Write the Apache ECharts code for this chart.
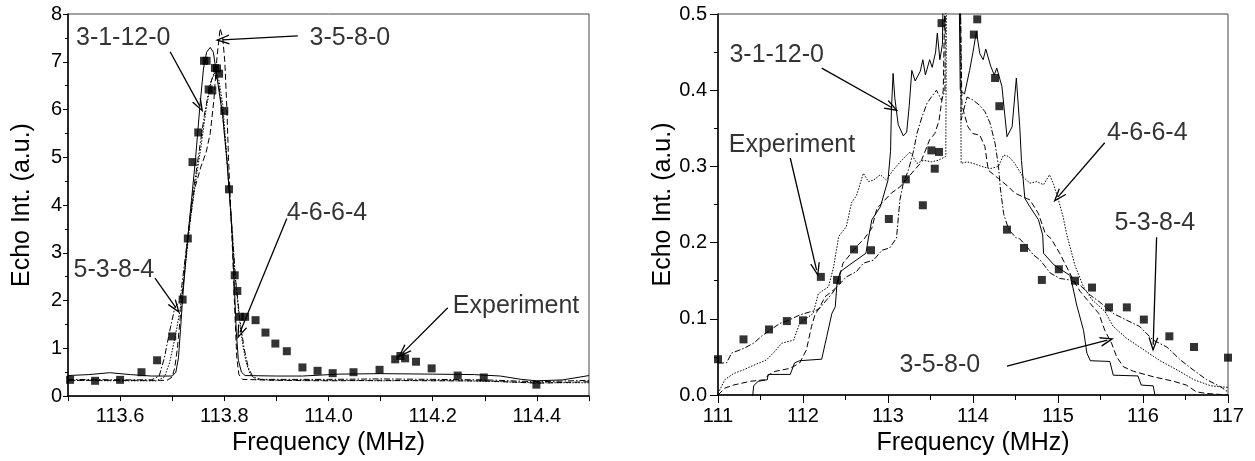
<!DOCTYPE html>
<html><head><meta charset="utf-8">
<script src="https://cdn.jsdelivr.net/npm/echarts@6/dist/echarts.min.js"></script>
<style>html,body{margin:0;padding:0;background:#fff}#c{width:1255px;height:461px}</style>
</head><body><div id="c"></div>
<script>
// ---------- Left panel data (Frequency MHz, Echo Int. a.u.) ----------
const leftExperiment = [[113.504,0.34],[113.552,0.32],[113.60,0.34],[113.641,0.50],[113.671,0.75],[113.70,1.25],[113.72,2.02],[113.73,3.30],[113.739,4.90],[113.75,5.52],[113.761,7.02],[113.766,7.02],[113.77,6.42],[113.777,6.40],[113.782,6.87],[113.786,6.86],[113.79,6.75],[113.80,5.97],[113.809,4.33],[113.82,2.53],[113.825,2.20],[113.83,1.66],[113.84,1.66],[113.86,1.59],[113.879,1.33],[113.898,1.10],[113.92,0.94],[113.95,0.60],[113.979,0.53],[114.008,0.48],[114.048,0.50],[114.098,0.55],[114.128,0.77],[114.138,0.84],[114.147,0.79],[114.168,0.72],[114.198,0.58],[114.248,0.43],[114.298,0.39],[114.399,0.24]];
const leftSim_3_1_12_0 = [[113.50,0.43],[113.54,0.45],[113.58,0.49],[113.62,0.45],[113.66,0.42],[113.70,0.42],[113.707,0.5],[113.712,0.8],[113.716,1.4],[113.72,2.05],[113.728,3.1],[113.737,4.1],[113.745,5.0],[113.753,6.05],[113.76,6.85],[113.766,7.2],[113.773,7.3],[113.779,7.2],[113.783,6.9],[113.789,6.45],[113.797,5.85],[113.805,4.95],[113.811,4.05],[113.815,3.4],[113.819,2.4],[113.823,1.35],[113.827,0.75],[113.833,0.5],[113.84,0.43],[113.9,0.42],[113.95,0.42],[114.02,0.46],[114.1,0.47],[114.2,0.46],[114.28,0.45],[114.33,0.42],[114.37,0.35],[114.4,0.32],[114.45,0.34],[114.5,0.43]];
const leftSim_3_5_8_0 = [[113.50,0.33],[113.6,0.33],[113.69,0.33],[113.70,0.4],[113.705,0.6],[113.71,1.0],[113.715,1.6],[113.72,2.2],[113.73,3.3],[113.742,4.3],[113.755,4.8],[113.765,5.1],[113.773,5.5],[113.78,6.2],[113.786,7.1],[113.792,7.7],[113.797,7.5],[113.801,7.0],[113.805,6.0],[113.808,5.0],[113.812,4.0],[113.816,3.0],[113.82,1.8],[113.824,0.8],[113.828,0.45],[113.835,0.35],[113.9,0.33],[114.0,0.32],[114.1,0.33],[114.2,0.32],[114.3,0.32],[114.4,0.27],[114.5,0.30]];
const leftSim_4_6_6_4 = [[113.50,0.33],[113.6,0.32],[113.67,0.32],[113.685,0.4],[113.695,0.7],[113.705,1.2],[113.715,1.8],[113.725,2.7],[113.735,3.7],[113.745,4.5],[113.755,5.2],[113.765,6.0],[113.775,6.6],[113.783,6.8],[113.79,6.6],[113.797,6.1],[113.805,5.0],[113.812,3.9],[113.82,2.6],[113.828,1.7],[113.835,1.1],[113.842,0.7],[113.85,0.45],[113.86,0.35],[113.9,0.33],[114.0,0.33],[114.1,0.32],[114.2,0.33],[114.3,0.31],[114.4,0.28],[114.5,0.28]];
const leftSim_5_3_8_4 = [[113.50,0.35],[113.6,0.34],[113.66,0.34],[113.675,0.42],[113.685,0.8],[113.695,1.35],[113.705,1.85],[113.715,2.0],[113.725,2.9],[113.738,4.1],[113.75,5.0],[113.762,5.9],[113.772,6.5],[113.78,6.75],[113.788,6.6],[113.796,6.0],[113.806,4.8],[113.815,3.5],[113.822,2.4],[113.83,1.6],[113.838,1.0],[113.846,0.6],[113.855,0.4],[113.87,0.35],[114.0,0.35],[114.1,0.36],[114.2,0.35],[114.3,0.34],[114.4,0.30],[114.5,0.33]];

// ---------- Right panel data ----------
const rightExperiment = [[111.0,0.047],[111.30,0.073],[111.60,0.086],[111.81,0.097],[112.0,0.098],[112.21,0.155],[112.40,0.151],[112.60,0.191],[112.80,0.190],[113.01,0.231],[113.21,0.283],[113.41,0.249],[113.51,0.321],[113.55,0.297],[113.60,0.319],[113.63,0.488],[114.01,0.473],[114.05,0.493],[114.26,0.416],[114.31,0.379],[114.40,0.217],[114.60,0.193],[114.81,0.151],[115.01,0.165],[115.20,0.150],[115.40,0.141],[115.60,0.115],[115.81,0.115],[116.01,0.099],[116.31,0.077],[116.60,0.063],[117.0,0.049]];
const rightSim_3_1_12_0 = [[111.0,-0.02],[111.40,-0.01],[111.42,0.012],[111.47,0.018],[111.58,0.02],[111.59,0.027],[111.85,0.027],[111.9,0.042],[111.96,0.045],[112.22,0.047],[112.28,0.077],[112.34,0.107],[112.38,0.116],[112.40,0.147],[112.44,0.162],[112.55,0.171],[112.74,0.186],[112.77,0.206],[112.81,0.23],[112.91,0.247],[113.0,0.282],[113.03,0.32],[113.04,0.374],[113.06,0.422],[113.08,0.39],[113.12,0.355],[113.18,0.34],[113.22,0.345],[113.25,0.38],[113.28,0.426],[113.32,0.412],[113.38,0.425],[113.41,0.44],[113.44,0.42],[113.49,0.44],[113.52,0.43],[113.56,0.45],[113.58,0.475],[113.61,0.44],[113.64,0.46],[113.66,0.6],[113.75,1.0],[113.83,0.6],[113.85,0.40],[113.9,0.395],[113.96,0.426],[114.0,0.45],[114.04,0.477],[114.08,0.448],[114.12,0.44],[114.15,0.454],[114.21,0.431],[114.25,0.42],[114.28,0.429],[114.34,0.405],[114.40,0.339],[114.46,0.352],[114.51,0.416],[114.55,0.352],[114.57,0.308],[114.61,0.258],[114.67,0.247],[114.77,0.23],[114.82,0.21],[114.83,0.186],[114.95,0.171],[115.14,0.157],[115.16,0.149],[115.22,0.118],[115.30,0.085],[115.34,0.055],[115.38,0.045],[115.61,0.044],[115.65,0.026],[115.94,0.025],[115.98,0.013],[116.12,0.012],[116.14,0.0],[116.2,-0.02],[117.0,-0.02]];
const rightSim_3_5_8_0 = [[111.0,0.0],[111.08,0.009],[111.18,0.013],[111.38,0.018],[111.55,0.02],[111.59,0.026],[111.67,0.031],[111.85,0.035],[111.96,0.042],[112.04,0.059],[112.10,0.09],[112.14,0.105],[112.2,0.116],[112.26,0.129],[112.34,0.136],[112.40,0.142],[112.47,0.173],[112.53,0.181],[112.63,0.195],[112.72,0.205],[112.81,0.219],[112.87,0.245],[112.93,0.252],[113.04,0.265],[113.14,0.273],[113.24,0.286],[113.38,0.304],[113.49,0.335],[113.55,0.343],[113.6,0.36],[113.65,0.40],[113.68,0.6],[113.75,1.0],[113.84,0.6],[113.87,0.38],[113.94,0.352],[114.0,0.343],[114.08,0.341],[114.14,0.326],[114.18,0.295],[114.30,0.284],[114.42,0.273],[114.49,0.265],[114.67,0.256],[114.77,0.238],[114.85,0.212],[114.92,0.205],[115.02,0.186],[115.18,0.151],[115.26,0.136],[115.38,0.12],[115.48,0.107],[115.55,0.085],[115.63,0.068],[115.69,0.05],[115.77,0.037],[115.89,0.031],[116.12,0.024],[116.36,0.018],[116.51,0.013],[116.63,0.004],[116.75,0.002],[117.0,0.0]];
const rightSim_4_6_6_4 = [[111.0,0.002],[111.08,0.02],[111.18,0.028],[111.30,0.033],[111.42,0.039],[111.57,0.046],[111.65,0.055],[111.75,0.068],[111.89,0.072],[111.96,0.094],[112.12,0.107],[112.18,0.133],[112.30,0.142],[112.36,0.168],[112.42,0.208],[112.51,0.221],[112.57,0.252],[112.63,0.262],[112.71,0.291],[112.77,0.28],[112.83,0.282],[112.91,0.289],[112.98,0.282],[113.06,0.295],[113.16,0.308],[113.26,0.319],[113.34,0.304],[113.42,0.308],[113.51,0.306],[113.59,0.308],[113.68,0.313],[113.69,0.6],[113.75,1.0],[113.85,0.6],[113.86,0.304],[113.93,0.306],[114.0,0.304],[114.1,0.30],[114.2,0.297],[114.30,0.30],[114.36,0.315],[114.42,0.313],[114.49,0.304],[114.59,0.286],[114.67,0.278],[114.75,0.28],[114.83,0.276],[114.90,0.289],[114.95,0.276],[115.0,0.258],[115.06,0.234],[115.10,0.212],[115.2,0.17],[115.3,0.142],[115.4,0.125],[115.55,0.11],[115.65,0.09],[115.8,0.075],[116.0,0.06],[116.2,0.045],[116.4,0.033],[116.6,0.02],[116.8,0.012],[117.0,0.01]];
const rightSim_5_3_8_4 = [[111.0,0.042],[111.1,0.042],[111.16,0.055],[111.30,0.061],[111.42,0.068],[111.51,0.077],[111.61,0.085],[111.73,0.094],[111.83,0.098],[111.96,0.105],[112.08,0.109],[112.18,0.112],[112.28,0.125],[112.34,0.133],[112.40,0.142],[112.51,0.155],[112.63,0.162],[112.71,0.173],[112.83,0.177],[112.93,0.19],[113.02,0.193],[113.10,0.206],[113.14,0.256],[113.18,0.278],[113.24,0.295],[113.30,0.32],[113.34,0.343],[113.40,0.365],[113.46,0.383],[113.51,0.391],[113.57,0.40],[113.63,0.387],[113.67,0.40],[113.68,0.6],[113.75,1.0],[113.85,0.6],[113.86,0.361],[113.93,0.391],[114.0,0.387],[114.08,0.38],[114.14,0.372],[114.20,0.357],[114.26,0.33],[114.30,0.30],[114.32,0.273],[114.36,0.238],[114.42,0.217],[114.51,0.206],[114.55,0.205],[114.63,0.195],[114.71,0.184],[114.79,0.177],[114.91,0.16],[115.02,0.153],[115.14,0.151],[115.26,0.144],[115.38,0.131],[115.49,0.122],[115.65,0.107],[115.81,0.098],[115.96,0.09],[116.12,0.072],[116.28,0.063],[116.44,0.046],[116.59,0.033],[116.75,0.02],[116.91,0.011],[117.0,0.004]];

// ---------- Annotations (text anchor, arrow start, arrow tip in data units) ----------
const leftNotes = [
  {text:'3-1-12-0',   at:[113.606,7.50], from:[113.696,7.21], to:[113.753,6.07]},
  {text:'3-5-8-0',    at:[114.041,7.50], from:[113.941,7.54], to:[113.796,7.46]},
  {text:'5-3-8-4',    at:[113.588,2.64], from:[113.667,2.47], to:[113.707,1.85]},
  {text:'4-6-6-4',    at:[113.997,3.84], from:[113.920,3.72], to:[113.830,1.33]},
  {text:'Experiment', at:[114.360,1.89], from:[114.229,1.85], to:[114.143,0.91]}
];
const rightNotes = [
  {text:'3-1-12-0',   at:[111.69,0.446], from:[112.22,0.429], to:[113.05,0.377]},
  {text:'Experiment', at:[111.87,0.328], from:[111.85,0.311], to:[112.16,0.164]},
  {text:'4-6-6-4',    at:[116.05,0.344], from:[115.55,0.331], to:[115.00,0.260]},
  {text:'5-3-8-4',    at:[116.14,0.226], from:[116.16,0.207], to:[116.12,0.066]},
  {text:'3-5-8-0',    at:[113.61,0.039], from:[114.40,0.038], to:[115.58,0.072]}
];

// ---------- Tick labels ----------
const leftXTicks = ['113.6','113.8','114.0','114.2','114.4'];
const axisTitleX = 'Frequency (MHz)';
const axisTitleY = 'Echo Int. (a.u.)';

const FONT = 'Liberation Sans, Arial, sans-serif';
const arrowPath = 'path://M5,0L10,13L8.6,13L5,3.6L1.4,13L0,13Z';

function simLine(data, idx, type) {
  return {type:'line', xAxisIndex:idx, yAxisIndex:idx, data:data, showSymbol:false, symbol:'none',
    lineStyle:{color:'#000', width:1, type:type}, silent:true, animation:false, z:2, clip:true};
}
function expPoints(data, idx) {
  return {type:'scatter', xAxisIndex:idx, yAxisIndex:idx, data:data, symbol:'rect', symbolSize:8,
    itemStyle:{color:'#000'}, silent:true, animation:false, z:4};
}
function notes(list, idx) {
  return {type:'scatter', xAxisIndex:idx, yAxisIndex:idx, symbolSize:0, silent:true, animation:false, z:5,
    data:list.map(n => ({value:n.at, name:n.text})),
    label:{show:true, position:'inside', formatter:'{b}', fontSize:25, color:'#000', fontFamily:FONT},
    markLine:{silent:true, animation:false, symbol:['none', arrowPath], symbolSize:[10,14],
      lineStyle:{color:'#000', width:1.3, type:'solid'}, label:{show:false}, emphasis:{disabled:true},
      data:list.map(n => [{coord:n.from},{coord:n.to}])}};
}

const axisLineStyle = {lineStyle:{color:'#000', width:1.5}};
const labelStyle = {color:'#000', fontSize:20, fontFamily:FONT};
const nameStyle = {color:'#000', fontSize:25, fontFamily:FONT};

const option = {
  animation:false,
  backgroundColor:'#fff',
  grid:[
    {left:68, right:666, top:14, bottom:62, show:true, borderColor:'#444', borderWidth:1},
    {left:718, right:27, top:14, bottom:66, show:true, borderColor:'#444', borderWidth:1}
  ],
  xAxis:[
    {gridIndex:0, type:'value', min:113.5, max:114.5, interval:0.1,
     name:axisTitleX, nameLocation:'middle', nameGap:31, nameTextStyle:nameStyle,
     axisLine:axisLineStyle, axisTick:{show:true, length:5, lineStyle:{color:'#000'}},
     axisLabel:Object.assign({margin:10, formatter:function(v){const s=v.toFixed(1); return leftXTicks.indexOf(s)>=0?s:'';}}, labelStyle),
     splitLine:{show:false}},
    {gridIndex:1, type:'value', min:111, max:117, interval:1,
     name:axisTitleX, nameLocation:'middle', nameGap:28, nameTextStyle:nameStyle,
     axisLine:axisLineStyle, axisTick:{show:true, length:8, lineStyle:{color:'#000'}},
     minorTick:{show:true, splitNumber:2, length:5, lineStyle:{color:'#000'}},
     axisLabel:Object.assign({margin:11}, labelStyle),
     splitLine:{show:false}, minorSplitLine:{show:false}}
  ],
  yAxis:[
    {gridIndex:0, type:'value', min:0, max:8, interval:1,
     name:axisTitleY, nameLocation:'middle', nameGap:33, nameTextStyle:nameStyle,
     axisLine:axisLineStyle, axisTick:{show:true, length:5, lineStyle:{color:'#000'}},
     minorTick:{show:true, splitNumber:2, length:3, lineStyle:{color:'#000'}},
     axisLabel:Object.assign({margin:6}, labelStyle),
     splitLine:{show:false}, minorSplitLine:{show:false}},
    {gridIndex:1, type:'value', min:0, max:0.5, interval:0.1,
     name:axisTitleY, nameLocation:'middle', nameGap:42, nameTextStyle:nameStyle,
     axisLine:axisLineStyle, axisTick:{show:true, length:8, lineStyle:{color:'#000'}},
     minorTick:{show:true, splitNumber:2, length:4, lineStyle:{color:'#000'}},
     axisLabel:Object.assign({margin:11, formatter:function(v){return v.toFixed(1);}}, labelStyle),
     splitLine:{show:false}, minorSplitLine:{show:false}}
  ],
  series:[
    simLine(leftSim_3_1_12_0, 0, 'solid'),
    simLine(leftSim_3_5_8_0, 0, [6,3]),
    simLine(leftSim_4_6_6_4, 0, [1.5,1.5]),
    simLine(leftSim_5_3_8_4, 0, [6,2,1.5,2]),
    expPoints(leftExperiment, 0),
    notes(leftNotes, 0),
    simLine(rightSim_3_1_12_0, 1, 'solid'),
    simLine(rightSim_3_5_8_0, 1, [6,3]),
    simLine(rightSim_4_6_6_4, 1, [1.5,1.5]),
    simLine(rightSim_5_3_8_4, 1, [6,2,1.5,2]),
    expPoints(rightExperiment, 1),
    notes(rightNotes, 1)
  ]
};
const chart = echarts.init(document.getElementById('c'), null, {renderer:'canvas'});
chart.setOption(option);
</script>
</body></html>
